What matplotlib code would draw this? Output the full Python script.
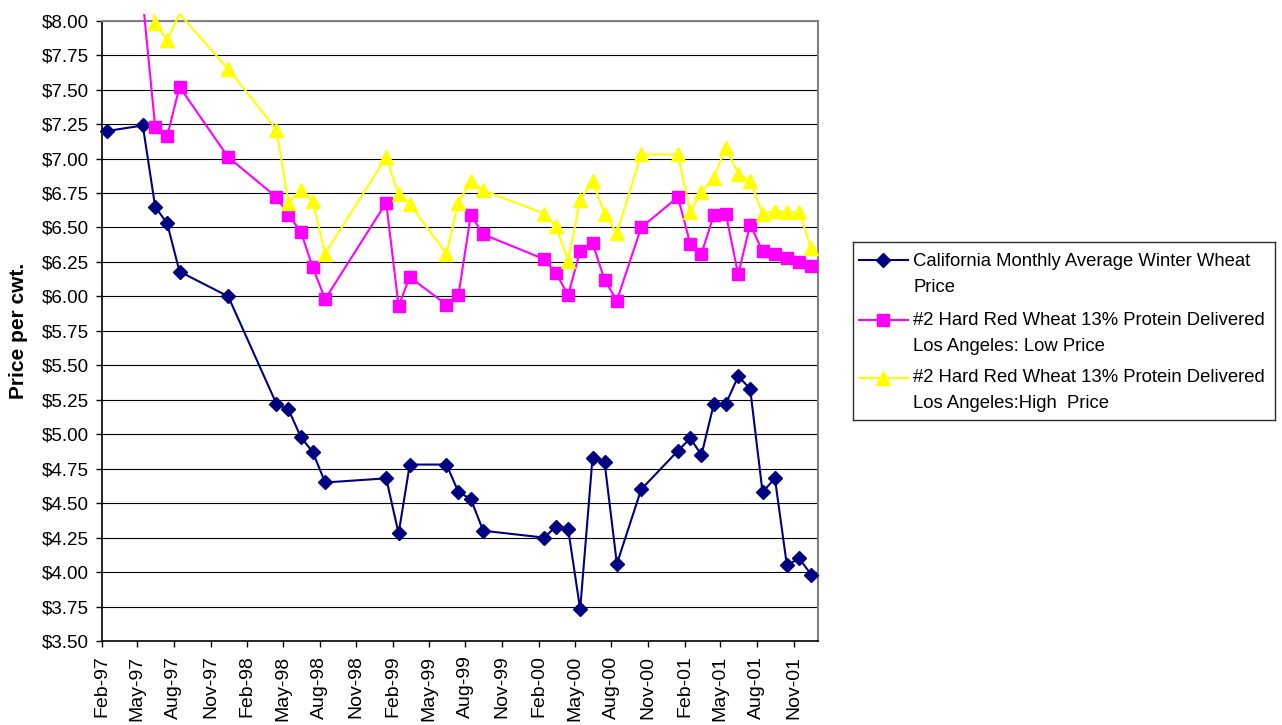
import numpy as np
import pandas as pd
import matplotlib
matplotlib.use("Agg")
import matplotlib.pyplot as plt
import matplotlib.dates as mdates
from matplotlib.patches import Rectangle
from matplotlib.lines import Line2D
from matplotlib.ticker import MultipleLocator, StrMethodFormatter

plt.rcParams['font.family'] = ['Liberation Sans', 'DejaVu Sans']

# Monthly prices, $ per cwt.
cal_months = ['1997-02', '1997-05', '1997-06', '1997-07', '1997-08', '1997-12',
              '1998-04', '1998-05', '1998-06', '1998-07', '1998-08',
              '1999-01', '1999-02', '1999-03', '1999-06', '1999-07', '1999-08', '1999-09',
              '2000-02', '2000-03', '2000-04', '2000-05', '2000-06', '2000-07', '2000-08', '2000-10',
              '2001-01', '2001-02', '2001-03', '2001-04', '2001-05', '2001-06', '2001-07',
              '2001-08', '2001-09', '2001-10', '2001-11', '2001-12']
cal_price = [7.20, 7.24, 6.65, 6.53, 6.18, 6.00,
             5.22, 5.18, 4.98, 4.87, 4.65,
             4.68, 4.28, 4.78, 4.78, 4.58, 4.53, 4.30,
             4.25, 4.33, 4.31, 3.73, 4.83, 4.80, 4.06, 4.60,
             4.88, 4.97, 4.85, 5.22, 5.22, 5.42, 5.33,
             4.58, 4.68, 4.05, 4.10, 3.98]

hrw_months = cal_months[1:]
hrw_low = [8.15, 7.23, 7.16, 7.52, 7.01,
           6.72, 6.59, 6.47, 6.21, 5.98,
           6.68, 5.93, 6.14, 5.94, 6.01, 6.59, 6.45,
           6.27, 6.17, 6.01, 6.33, 6.39, 6.12, 5.97, 6.50,
           6.72, 6.38, 6.31, 6.59, 6.60, 6.16, 6.52,
           6.33, 6.31, 6.28, 6.25, 6.22]
hrw_high = [8.70, 7.98, 7.86, 8.05, 7.65,
            7.21, 6.68, 6.77, 6.69, 6.31,
            7.01, 6.74, 6.67, 6.31, 6.68, 6.84, 6.77,
            6.60, 6.51, 6.26, 6.70, 6.84, 6.60, 6.46, 7.03,
            7.03, 6.61, 6.76, 6.86, 7.08, 6.89, 6.84,
            6.60, 6.62, 6.61, 6.61, 6.35]

labels = ['California Monthly Average Winter Wheat\nPrice',
          '#2 Hard Red Wheat 13% Protein Delivered\nLos Angeles: Low Price',
          '#2 Hard Red Wheat 13% Protein Delivered\nLos Angeles:High  Price']
colors = ['#000080', '#FF00FF', '#FFFF00']
markers = ['D', 's', '^']
msizes = [6.8, 8.8, 9.4]

YMIN, YMAX = 3.50, 8.00

W, H = 1282, 725
fig = plt.figure(figsize=(W / 100, H / 100), dpi=100)
ax = fig.add_axes([101.7 / W, (H - 641) / H, 716.3 / W, 620.3 / H])

# points sit mid-month on a date axis
def mid_month(months):
    return pd.to_datetime(months) + pd.Timedelta(days=14)

series = [(cal_months, cal_price), (hrw_months, hrw_low), (hrw_months, hrw_high)]

# lines may run a little above the top of the value axis
clip_rect = Rectangle((0, 0), 1, 1 + 7 / 620.3, transform=ax.transAxes)

for (months, vals), c, m, ms in zip(series, colors, markers, msizes):
    x = mid_month(months)
    v = np.array(vals)
    ln, = ax.plot(x, v, color=c, lw=1.5, zorder=3)
    ln.set_clip_path(clip_rect)
    ax.plot(x, np.ma.masked_greater(v, YMAX), ls='none', marker=m, ms=ms,
            mfc=c, mec=c, mew=1, clip_on=False, zorder=4)

ax.set_ylim(YMIN, YMAX)
ax.set_xlim(pd.Timestamp('1997-02-01'), pd.Timestamp('2002-01-01'))
ax.yaxis.set_major_locator(MultipleLocator(0.25))
ax.yaxis.set_major_formatter(StrMethodFormatter('\\${x:.2f}'))
ax.xaxis.set_major_locator(mdates.MonthLocator(bymonth=[2, 5, 8, 11]))
ax.xaxis.set_major_formatter(mdates.DateFormatter('%b-%y'))

ax.grid(axis='y', color='black', lw=0.8)
ax.set_axisbelow(True)
ax.tick_params(axis='y', direction='out', length=4, width=1, pad=5.5,
               labelsize=13.5, colors='black')
ax.tick_params(axis='x', direction='out', length=4.5, width=1, pad=6,
               labelsize=14, labelrotation=90)
for s in ['left', 'bottom']:
    ax.spines[s].set_color('black')
    ax.spines[s].set_linewidth(1.2)
for s in ['top', 'right']:
    ax.spines[s].set_color('#808080')
    ax.spines[s].set_linewidth(1.5)

ax.set_ylabel('Price per cwt.', fontsize=15, fontweight='bold')
ax.yaxis.set_label_coords(-0.1025, 0.5)

# legend box, laid out in pixels from its top-left corner
lx0, ly0, lx1, ly1 = 852.7, 242, 1275, 420
lax = fig.add_axes([lx0 / W, (H - ly1) / H, (lx1 - lx0) / W, (ly1 - ly0) / H])
lax.set_xlim(0, lx1 - lx0)
lax.set_ylim(ly1 - ly0, 0)
lax.set_xticks([])
lax.set_yticks([])
for s in lax.spines.values():
    s.set_color('#303030')
    s.set_linewidth(1.0)

handle_y = [18, 78, 135.7]
base_y = [(24, 49.7), (83, 108.7), (140.3, 166.3)]
for lab, c, m, ms, hy, by in zip(labels, colors, markers, msizes, handle_y, base_y):
    lax.add_line(Line2D([6.6, 55.6], [hy, hy], color=c, lw=1.5))
    lax.plot([30.6], [hy], marker=m, ms=ms, mfc=c, mec=c, mew=1, clip_on=False)
    for line_txt, yb in zip(lab.split('\n'), by):
        lax.text(60.6, yb, line_txt, fontsize=13.3, va='baseline', ha='left')

fig.savefig('out.png', dpi=100, facecolor='white')
